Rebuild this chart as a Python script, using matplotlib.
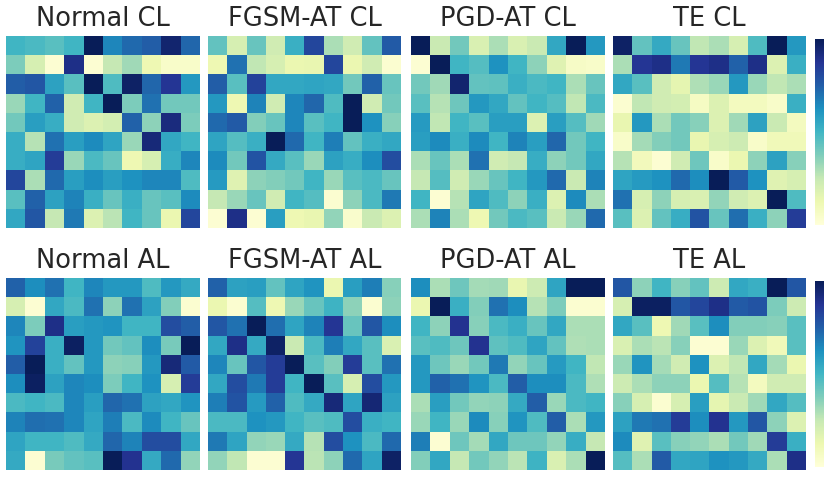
import numpy as np
import matplotlib
matplotlib.use('Agg')
import matplotlib.pyplot as plt

titles = ['Normal CL', 'FGSM-AT CL', 'PGD-AT CL', 'TE CL',
          'Normal AL', 'FGSM-AT AL', 'PGD-AT AL', 'TE AL']

normal_cl = [
    [0.50, 0.48, 0.45, 0.50, 1.00, 0.65, 0.72, 0.75, 0.95, 0.73],
    [0.38, 0.20, 0.02, 0.90, 0.02, 0.25, 0.32, 0.12, 0.05, 0.05],
    [0.75, 0.77, 0.57, 0.45, 1.00, 0.47, 0.97, 0.73, 0.87, 0.60],
    [0.33, 0.50, 0.74, 0.22, 0.50, 1.00, 0.38, 0.70, 0.40, 0.40],
    [0.40, 0.58, 0.53, 0.22, 0.18, 0.21, 0.74, 0.35, 0.92, 0.38],
    [0.53, 0.28, 0.70, 0.58, 0.64, 0.56, 0.33, 0.93, 0.55, 0.50],
    [0.53, 0.56, 0.85, 0.33, 0.48, 0.42, 0.12, 0.20, 0.53, 0.65],
    [0.82, 0.30, 0.72, 0.58, 0.63, 0.58, 0.62, 0.65, 0.65, 0.47],
    [0.45, 0.74, 0.57, 0.66, 0.52, 0.42, 0.52, 0.42, 0.45, 0.64],
    [0.55, 0.77, 0.25, 0.68, 0.18, 0.27, 0.50, 0.42, 0.13, 0.82],
]

fgsm_cl = [
    [0.43, 0.20, 0.42, 0.22, 0.52, 0.82, 0.30, 0.22, 0.43, 0.76],
    [0.12, 0.70, 0.26, 0.20, 0.13, 0.14, 0.82, 0.13, 0.22, 0.03],
    [0.75, 0.45, 0.83, 0.55, 0.55, 0.56, 0.55, 0.40, 0.74, 0.42],
    [0.60, 0.12, 0.66, 0.22, 0.65, 0.73, 0.47, 1.00, 0.22, 0.40],
    [0.72, 0.76, 0.37, 0.42, 0.65, 0.45, 0.50, 1.00, 0.62, 0.36],
    [0.56, 0.46, 0.52, 1.00, 0.72, 0.50, 0.67, 0.43, 0.52, 0.55],
    [0.64, 0.40, 0.78, 0.54, 0.45, 0.33, 0.57, 0.53, 0.63, 0.80],
    [0.59, 0.17, 0.35, 0.37, 0.40, 0.50, 0.33, 0.45, 0.48, 0.42],
    [0.25, 0.33, 0.42, 0.22, 0.50, 0.46, 0.03, 0.35, 0.48, 0.68],
    [0.02, 0.90, 0.02, 0.58, 0.12, 0.14, 0.34, 0.04, 0.24, 0.18],
]

pgd_cl = [
    [1.00, 0.24, 0.40, 0.19, 0.30, 0.19, 0.24, 0.55, 1.00, 0.60],
    [0.02, 1.00, 0.50, 0.46, 0.62, 0.50, 0.35, 0.17, 0.06, 0.05],
    [0.40, 0.32, 0.95, 0.43, 0.44, 0.52, 0.48, 0.50, 0.30, 0.42],
    [0.45, 0.28, 0.41, 0.60, 0.55, 0.43, 0.50, 0.46, 0.26, 0.48],
    [0.59, 0.26, 0.50, 0.45, 0.58, 0.58, 0.18, 0.58, 0.46, 0.32],
    [0.58, 0.64, 0.52, 0.64, 0.50, 0.66, 0.58, 0.73, 0.40, 0.50],
    [0.30, 0.42, 0.30, 0.70, 0.22, 0.25, 0.53, 0.35, 0.40, 0.55],
    [0.25, 0.46, 0.22, 0.33, 0.42, 0.50, 0.60, 0.72, 0.24, 0.66],
    [0.50, 0.02, 0.28, 0.56, 0.47, 0.35, 0.52, 0.18, 0.64, 0.30],
    [0.30, 0.66, 0.30, 0.12, 0.40, 0.48, 0.45, 0.24, 0.33, 0.72],
]

te_cl = [
    [0.97, 0.43, 0.54, 0.42, 0.26, 0.30, 0.20, 0.47, 1.00, 0.60],
    [0.30, 0.87, 0.90, 0.68, 0.87, 0.90, 0.74, 0.90, 0.18, 0.52],
    [0.55, 0.45, 0.22, 0.15, 0.29, 0.33, 0.60, 0.33, 0.26, 0.30],
    [0.03, 0.26, 0.22, 0.21, 0.07, 0.18, 0.08, 0.08, 0.05, 0.52],
    [0.14, 0.60, 0.30, 0.40, 0.36, 0.18, 0.32, 0.57, 0.24, 0.08],
    [0.05, 0.31, 0.37, 0.40, 0.14, 0.20, 0.23, 0.05, 0.10, 0.10],
    [0.28, 0.09, 0.02, 0.22, 0.41, 0.05, 0.13, 0.35, 0.57, 0.36],
    [0.56, 0.59, 0.62, 0.72, 0.63, 1.00, 0.76, 0.62, 0.17, 0.20],
    [0.70, 0.20, 0.35, 0.20, 0.19, 0.34, 0.22, 0.18, 1.00, 0.47],
    [0.45, 0.18, 0.43, 0.53, 0.78, 0.42, 0.71, 0.52, 0.35, 0.85],
]

normal_al = [
    [0.74, 0.63, 0.70, 0.50, 0.65, 0.60, 0.60, 0.47, 0.60, 0.54],
    [0.20, 0.02, 0.55, 0.48, 0.70, 0.35, 0.70, 0.57, 0.37, 0.03],
    [0.65, 0.38, 0.90, 0.58, 0.60, 0.61, 0.50, 0.50, 0.80, 0.75],
    [0.61, 0.83, 0.52, 0.98, 0.60, 0.40, 0.43, 0.63, 0.39, 1.00],
    [0.75, 1.00, 0.52, 0.43, 0.60, 0.35, 0.36, 0.60, 0.93, 0.76],
    [0.63, 0.98, 0.57, 0.65, 0.63, 0.38, 0.50, 0.62, 0.20, 0.85],
    [0.48, 0.50, 0.48, 0.65, 0.58, 0.73, 0.70, 0.57, 0.55, 0.61],
    [0.66, 0.71, 0.70, 0.65, 0.56, 0.67, 0.48, 0.64, 0.50, 0.42],
    [0.56, 0.50, 0.50, 0.47, 0.54, 0.73, 0.66, 0.80, 0.80, 0.55],
    [0.54, 0.02, 0.39, 0.43, 0.45, 1.00, 0.88, 0.54, 0.72, 0.34],
]

fgsm_al = [
    [0.74, 0.57, 0.58, 0.43, 0.56, 0.61, 0.13, 0.58, 0.67, 0.36],
    [0.13, 0.03, 0.46, 0.12, 0.33, 0.42, 0.51, 0.35, 0.03, 0.35],
    [0.77, 0.70, 1.00, 0.71, 0.56, 0.66, 0.87, 0.42, 0.77, 0.63],
    [0.55, 0.90, 0.54, 0.97, 0.24, 0.48, 0.67, 0.55, 0.45, 0.19],
    [0.65, 0.42, 0.77, 0.85, 1.00, 0.45, 0.37, 0.85, 0.45, 0.70],
    [0.55, 0.80, 0.68, 0.85, 0.50, 1.00, 0.45, 0.20, 0.80, 0.60],
    [0.67, 0.78, 0.59, 0.74, 0.47, 0.54, 0.93, 0.56, 0.94, 0.57],
    [0.48, 0.48, 0.62, 0.60, 0.50, 0.45, 0.47, 0.80, 0.52, 0.50],
    [0.68, 0.56, 0.34, 0.33, 0.54, 0.28, 0.80, 0.62, 0.48, 0.72],
    [0.34, 0.26, 0.02, 0.02, 0.87, 0.27, 0.35, 0.72, 0.56, 0.97],
]

pgd_al = [
    [0.63, 0.30, 0.41, 0.31, 0.32, 0.14, 0.23, 0.56, 1.00, 1.00],
    [0.13, 1.00, 0.52, 0.37, 0.70, 0.63, 0.28, 0.38, 0.03, 0.03],
    [0.50, 0.35, 0.88, 0.36, 0.48, 0.52, 0.42, 0.55, 0.30, 0.30],
    [0.45, 0.47, 0.41, 0.88, 0.44, 0.47, 0.56, 0.43, 0.29, 0.30],
    [0.60, 0.41, 0.33, 0.40, 0.68, 0.34, 0.42, 0.59, 0.50, 0.26],
    [0.60, 0.74, 0.70, 0.61, 0.48, 0.75, 0.63, 0.63, 0.48, 0.29],
    [0.30, 0.58, 0.40, 0.34, 0.35, 0.54, 0.75, 0.33, 0.48, 0.50],
    [0.33, 0.50, 0.33, 0.64, 0.36, 0.61, 0.47, 0.75, 0.30, 0.60],
    [0.67, 0.02, 0.41, 0.31, 0.55, 0.41, 0.41, 0.34, 0.53, 0.25],
    [0.37, 0.55, 0.25, 0.40, 0.34, 0.27, 0.51, 0.19, 0.30, 1.00],
]

te_al = [
    [0.77, 0.35, 0.50, 0.36, 0.43, 0.23, 0.55, 0.52, 1.00, 0.77],
    [0.20, 0.98, 0.98, 0.77, 0.82, 0.90, 0.76, 0.78, 0.38, 0.23],
    [0.55, 0.45, 0.12, 0.32, 0.45, 0.63, 0.37, 0.37, 0.36, 0.45],
    [0.19, 0.30, 0.27, 0.36, 0.02, 0.02, 0.33, 0.18, 0.10, 0.45],
    [0.33, 0.61, 0.31, 0.22, 0.62, 0.18, 0.26, 0.55, 0.31, 0.13],
    [0.23, 0.30, 0.35, 0.35, 0.13, 0.46, 0.28, 0.08, 0.22, 0.22],
    [0.36, 0.20, 0.03, 0.20, 0.58, 0.15, 0.24, 0.32, 0.55, 0.46],
    [0.57, 0.68, 0.70, 0.85, 0.63, 0.88, 0.60, 0.77, 0.35, 0.18],
    [0.64, 0.17, 0.45, 0.36, 0.34, 0.30, 0.40, 0.32, 0.85, 0.52],
    [0.46, 0.30, 0.76, 0.55, 0.56, 0.62, 0.60, 0.54, 0.30, 0.90],
]

maps = [normal_cl, fgsm_cl, pgd_cl, te_cl, normal_al, fgsm_al, pgd_al, te_al]

W, H = 830, 485
fig = plt.figure(figsize=(W / 100, H / 100), dpi=100)

lefts = [6, 208, 411, 613]
tops = [37, 279]
size_w, size_h = 193, 192

for k, m in enumerate(maps):
    r, c = divmod(k, 4)
    ax = fig.add_axes([lefts[c] / W, (H - tops[r] - size_h) / H, size_w / W, size_h / H])
    im = ax.imshow(np.array(m), cmap='YlGnBu', vmin=0, vmax=1, aspect='auto',
                   interpolation='nearest')
    ax.set_xticks([])
    ax.set_yticks([])
    for s in ax.spines.values():
        s.set_visible(False)
    ax.set_title(titles[k], fontsize=18.5, pad=8, color='0.15')

# colorbars, one per row, no ticks
cb_tops = [40, 282]
for t in cb_tops:
    cax = fig.add_axes([815 / W, (H - t - 186) / H, 9 / W, 186 / H])
    cb = fig.colorbar(im, cax=cax)
    cb.set_ticks([])
    cb.outline.set_visible(False)

fig.savefig('out.png', dpi=100)
